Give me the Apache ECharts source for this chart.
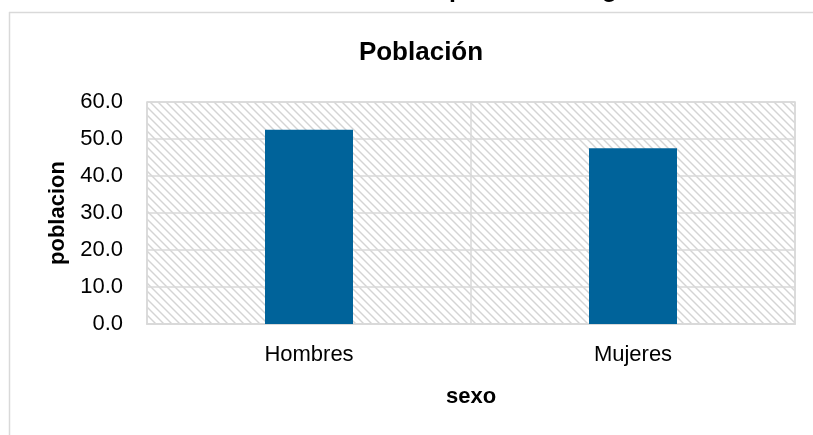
<!DOCTYPE html>
<html>
<head>
<meta charset="utf-8">
<script src="https://cdn.jsdelivr.net/npm/echarts@6/dist/echarts.min.js"></script>
<style>
html,body{margin:0;padding:0;background:#fff;overflow:hidden;}
#c{width:813px;height:435px;}
</style>
</head>
<body>
<div id="c"></div>
<script>
const categories = ['Hombres', 'Mujeres'];
const poblacion = [52.5, 47.5];
const chartTitle = 'Población';
const topCaption = 'Gráfico 1. Distribución de la población según sexo';
const xName = 'sexo';
const yName = 'poblacion';

const FONT = '"Liberation Sans", Arial, sans-serif';

// hatch pattern for plot background
const tile = document.createElement('canvas');
tile.width = 8; tile.height = 8;
const g = tile.getContext('2d');
g.fillStyle = '#ffffff';
g.fillRect(0, 0, 8, 8);
g.strokeStyle = '#d4d4d4';
g.lineWidth = 1.4;
for (let k = -1; k <= 1; k++) {
  g.beginPath();
  g.moveTo(k * 8 - 1, -1);
  g.lineTo(k * 8 + 9, 9);
  g.stroke();
}

const chart = echarts.init(document.getElementById('c'), null, {renderer: 'canvas'});
chart.setOption({
  animation: false,
  backgroundColor: '#ffffff',
  title: {
    text: chartTitle,
    left: 416,
    top: 35,
    textAlign: 'center',
    textStyle: {fontFamily: FONT, fontSize: 26, fontWeight: 'bold', color: '#000'}
  },
  graphic: [
    {
      type: 'line', silent: true, z: -10,
      shape: {x1: 9.5, y1: 12, x2: 9.5, y2: 435},
      style: {stroke: '#d9d9d9', lineWidth: 1.5}
    },
    {
      type: 'line', silent: true, z: -10,
      shape: {x1: 9, y1: 12.5, x2: 813, y2: 12.5},
      style: {stroke: '#d9d9d9', lineWidth: 1.5}
    },
    {
      type: 'text', silent: true,
      x: 110, y: -22,
      style: {text: topCaption, font: 'bold 25px ' + FONT, fill: '#000'}
    }
  ],
  grid: {
    left: 147, right: 18, top: 102, bottom: 111,
    show: true,
    backgroundColor: {image: tile, repeat: 'repeat'},
    borderColor: '#d9d9d9', borderWidth: 1.5
  },
  xAxis: {
    type: 'category',
    data: categories,
    name: xName,
    nameLocation: 'middle',
    nameGap: 62,
    nameTextStyle: {fontFamily: FONT, fontSize: 22, fontWeight: 'bold', color: '#000'},
    axisLine: {show: true, lineStyle: {color: '#d9d9d9', width: 2}},
    axisTick: {show: false},
    axisLabel: {margin: 20, fontFamily: FONT, fontSize: 22, color: '#000'},
    splitLine: {show: true, lineStyle: {color: '#d9d9d9', width: 1.5}}
  },
  yAxis: {
    type: 'value',
    min: 0, max: 60, interval: 10,
    name: yName,
    nameLocation: 'middle',
    nameGap: 76,
    nameTextStyle: {fontFamily: FONT, fontSize: 22, fontWeight: 'bold', color: '#000'},
    axisLine: {show: false},
    axisTick: {show: false},
    axisLabel: {
      margin: 24, fontFamily: FONT, fontSize: 22, color: '#000',
      formatter: v => v.toFixed(1)
    },
    splitLine: {show: true, lineStyle: {color: '#d9d9d9', width: 1.5}}
  },
  series: [{
    type: 'bar',
    data: poblacion,
    barWidth: 88,
    itemStyle: {color: '#00639A'}
  }]
});
</script>
</body>
</html>
